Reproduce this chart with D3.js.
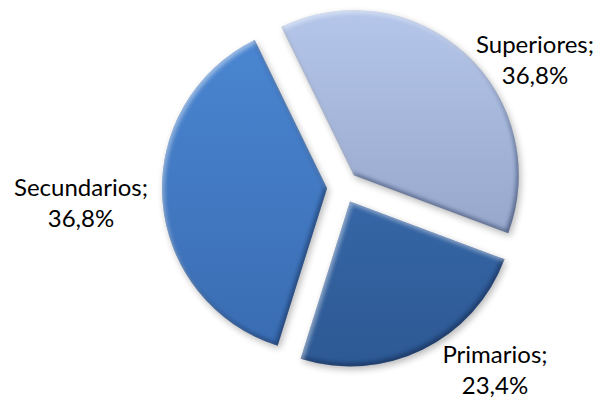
<!DOCTYPE html>
<html>
<head>
<meta charset="utf-8">
<script src="https://cdn.jsdelivr.net/npm/d3@7"></script>
<style>
  html, body { margin: 0; padding: 0; background: #fff; }
  svg { display: block; }
  text { font-family: Lato, "Open Sans", sans-serif; fill: #000; }
</style>
</head>
<body>
<svg id="chart" width="600" height="402"></svg>
<script>
// Nivel de estudios
const categories = ["Superiores", "Primarios", "Secundarios"];
const values = [36.8, 23.4, 36.8];
const valueLabels = ["36,8%", "23,4%", "36,8%"];

// Colores de cada porción (arriba / abajo del degradado)
const topColors = ["#b4c6ea", "#3f73b9", "#4b87d3"];
const bottomColors = ["#8898bd", "#2d5993", "#396cb1"];

const W = 600, H = 402;
const cx = 343, cy = 187, R = 165, explode = 16;
const start = -26 * Math.PI / 180;

// Anclas de las etiquetas (línea base de la primera línea)
const labelAnchors = [[535, 53], [495, 363], [81, 196]];

const svg = d3.select("#chart");
const defs = svg.append("defs");

const blur = (id, sd) => defs.append("filter").attr("id", id)
  .attr("x", "-30%").attr("y", "-30%").attr("width", "160%").attr("height", "160%")
  .append("feGaussianBlur").attr("stdDeviation", sd);
blur("shadowBlur", 3.5);
blur("edgeBlur", 2.2);

const pie = d3.pie().sort(null).value(d => d)
  .startAngle(start).endAngle(start + 2 * Math.PI);
const arcs = pie(values);
const arc = d3.arc().innerRadius(0).outerRadius(R);

categories.forEach((c, i) => {
  const g = defs.append("linearGradient").attr("id", "grad" + i)
    .attr("gradientUnits", "userSpaceOnUse")
    .attr("x1", 0).attr("y1", -R).attr("x2", 0).attr("y2", R);
  g.append("stop").attr("offset", 0).attr("stop-color", topColors[i]);
  g.append("stop").attr("offset", 1).attr("stop-color", bottomColors[i]);
  defs.append("clipPath").attr("id", "clip" + i)
    .append("path").attr("d", arc(arcs[i]));
});

const root = svg.append("g").attr("transform", `translate(${cx},${cy})`);

const slices = root.selectAll("g.slice").data(arcs).join("g")
  .attr("class", "slice")
  .attr("transform", d => {
    const a = (d.startAngle + d.endAngle) / 2;
    return `translate(${explode * Math.sin(a)},${-explode * Math.cos(a)})`;
  });

// sombra suave
slices.append("path")
  .attr("d", arc)
  .attr("fill", "#000")
  .attr("opacity", 0.28)
  .attr("filter", "url(#shadowBlur)")
  .attr("transform", "translate(2,3)");

// relleno principal
slices.append("path")
  .attr("d", arc)
  .attr("fill", (d, i) => `url(#grad${i})`);

// biselado: bordes oscuros abajo/derecha, claros arriba/izquierda
const frame = "M-500,-500H500V500H-500Z";
const bevel = slices.append("g").attr("clip-path", (d, i) => `url(#clip${i})`);
bevel.append("path")
  .attr("d", d => frame + arc(d))
  .attr("fill-rule", "evenodd")
  .attr("fill", "#0c1a3c")
  .attr("opacity", 0.5)
  .attr("filter", "url(#edgeBlur)")
  .attr("transform", "translate(-2,-3)");
bevel.append("path")
  .attr("d", d => frame + arc(d))
  .attr("fill-rule", "evenodd")
  .attr("fill", "#ffffff")
  .attr("opacity", 0.45)
  .attr("filter", "url(#edgeBlur)")
  .attr("transform", "translate(2,3)");

// etiquetas
const fs = 24;
const labels = svg.append("g").selectAll("text").data(categories).join("text")
  .attr("text-anchor", "middle")
  .attr("font-size", fs)
  .attr("x", (d, i) => labelAnchors[i][0])
  .attr("y", (d, i) => labelAnchors[i][1]);
labels.append("tspan").text(d => d + ";");
labels.append("tspan")
  .attr("x", (d, i) => labelAnchors[i][0])
  .attr("dy", 31)
  .text((d, i) => valueLabels[i]);
</script>
</body>
</html>
